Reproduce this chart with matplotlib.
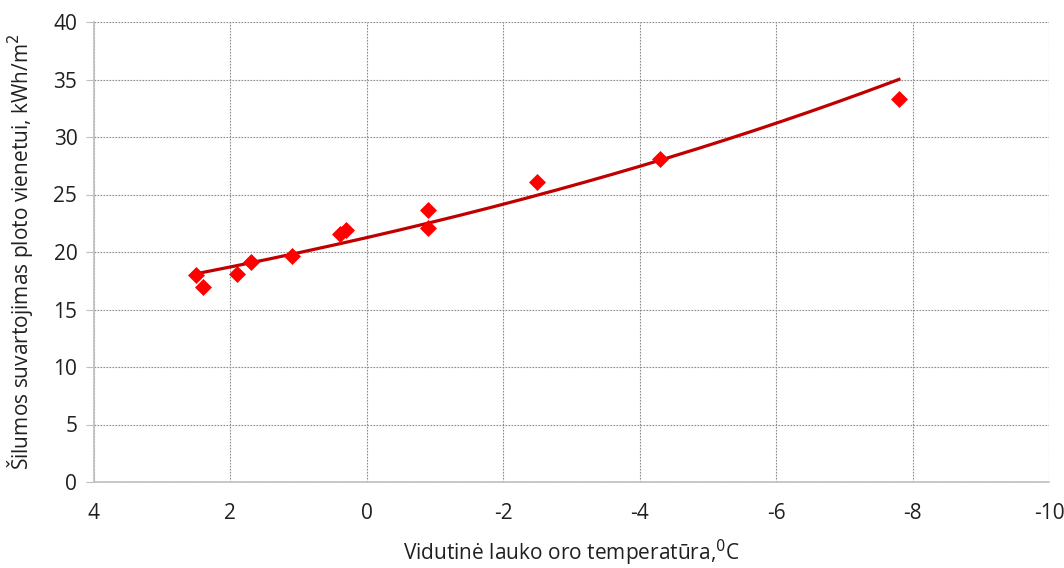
import numpy as np
import matplotlib
matplotlib.use("Agg")
import matplotlib.pyplot as plt

plt.rcParams['font.family'] = ['Open Sans', 'DejaVu Sans']

# Data
temperature = [2.5, 2.4, 1.9, 1.7, 1.1, 0.4, 0.3, -0.9, -0.9, -2.5, -4.3, -7.8]
consumption = [18.0, 17.0, 18.1, 19.1, 19.65, 21.6, 21.9, 23.65, 22.1, 26.1, 28.1, 33.3]
x_ticks = [4, 2, 0, -2, -4, -6, -8, -10]
y_ticks = [0, 5, 10, 15, 20, 25, 30, 35, 40]

# Exponential trendline (Excel-style fit on log of y)
t = np.array(temperature)
c = np.array(consumption)
b, ln_a = np.polyfit(t, np.log(c), 1)
xs = np.linspace(t.max(), t.min(), 200)
ys = np.exp(ln_a) * np.exp(b * xs)

fig = plt.figure(figsize=(10.64, 5.68), dpi=100)
ax = fig.add_axes([94/1064, 1 - 482/568, (1049-94)/1064, (482-22)/568])

ax.plot(xs, ys, color='#C00000', lw=2.3, zorder=3)
ax.scatter(t, c, marker='D', s=75, color='#FF0000', zorder=4, linewidths=0)

ax.set_xlim(4, -10)
ax.set_ylim(0, 40)
ax.set_xticks(x_ticks)
ax.set_yticks(y_ticks)
ax.set_xticklabels([str(v) for v in x_ticks])
ax.grid(True, color='#8C8C8C', linestyle=(0, (1.5, 1.2)), linewidth=0.8)
ax.set_axisbelow(True)

for s in ['top', 'right']:
    ax.spines[s].set_visible(False)
for s in ['left', 'bottom']:
    ax.spines[s].set_color('#BFBFBF')
    ax.spines[s].set_linewidth(1.2)

ax.tick_params(axis='y', length=6, color='#BFBFBF', labelsize=15, pad=6, labelcolor='#202020')
ax.tick_params(axis='x', length=0, labelsize=15, pad=15, labelcolor='#202020')

ax.set_xlabel('Vidutinė lauko oro temperatūra,$^{0}$C', fontsize=15, color='#202020')
ax.xaxis.set_label_coords(0.5, -(553-482)/460, transform=ax.transAxes)
ax.xaxis.label.set_va('center')
ax.set_ylabel('Šilumos suvartojimas ploto vienetui, kWh/m$^{2}$', fontsize=15, color='#202020')
ax.yaxis.set_label_coords(-(94-20)/955, 0.5, transform=ax.transAxes)
ax.yaxis.label.set_va('center')

fig.savefig('out.png', dpi=100)
